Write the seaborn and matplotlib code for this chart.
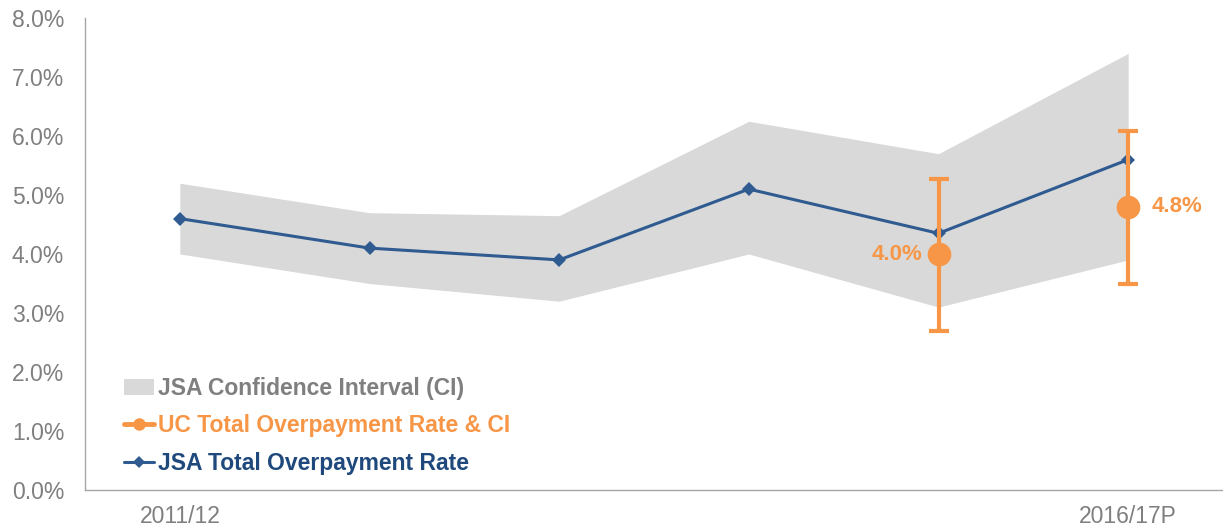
import matplotlib
matplotlib.use("Agg")
import matplotlib.pyplot as plt
from matplotlib.lines import Line2D
from matplotlib.patches import Patch
import numpy as np
import pandas as pd
import seaborn as sns

# values (percent)
years = ["2011/12", "2012/13", "2013/14", "2014/15", "2015/16", "2016/17P"]
jsa_rate = [4.6, 4.1, 3.9, 5.1, 4.35, 5.6]
jsa_ci_low = [4.0, 3.5, 3.2, 4.0, 3.1, 3.9]
jsa_ci_high = [5.2, 4.7, 4.65, 6.25, 5.7, 7.4]
uc_years = ["2015/16", "2016/17P"]
uc_rate = [4.0, 4.8]
uc_ci_low = [2.7, 3.5]
uc_ci_high = [5.27, 6.08]
shown_labels = ["2011/12", "2016/17P"]

BLUE = "#2F5B91"
ORANGE = "#F79646"
BAND = "#D9D9D9"
AXIS_GREY = "#A6A6A6"
TEXT_GREY = "#7F7F7F"

sns.set_style("white")
plt.rcParams["font.family"] = ["Liberation Sans", "DejaVu Sans"]

fig = plt.figure(figsize=(12.23, 5.26), dpi=100)
ax = fig.add_axes([85 / 1223, 36 / 526, 1 - 85 / 1223, 472 / 526])

x = np.arange(len(years))
jsa = pd.DataFrame({"x": x, "rate": jsa_rate})

ax.fill_between(x, jsa_ci_low, jsa_ci_high, color=BAND, linewidth=0, zorder=1)
sns.lineplot(data=jsa, x="x", y="rate", color=BLUE, linewidth=2.2, marker="D",
             markersize=7, markeredgewidth=0, ax=ax, zorder=3)

ux = np.array([years.index(y) for y in uc_years])
err = [np.subtract(uc_rate, uc_ci_low), np.subtract(uc_ci_high, uc_rate)]
ax.errorbar(ux, uc_rate, yerr=err, fmt="none", ecolor=ORANGE, elinewidth=3,
            capsize=7, capthick=3, zorder=4)
uc = pd.DataFrame({"x": ux, "rate": uc_rate})
sns.scatterplot(data=uc, x="x", y="rate", color=ORANGE, s=290, linewidth=0,
                ax=ax, zorder=5)

ax.text(ux[0] - 0.085, uc_rate[0], f"{uc_rate[0]:.1f}%", color=ORANGE,
        fontsize=16, fontweight="bold", ha="right", va="center", zorder=6)
ax.text(ux[1] + 0.125, uc_rate[1], f"{uc_rate[1]:.1f}%", color=ORANGE,
        fontsize=16, fontweight="bold", ha="left", va="center", zorder=6)

ax.set_xlim(-0.5, 5.435)
ax.set_ylim(0, 8)
ax.set_yticks(np.arange(0, 9, 1))
ax.set_yticklabels([f"{v:.1f}%" for v in range(9)])
ax.set_xticks(x)
ax.set_xticklabels([y if y in shown_labels else "" for y in years])
ax.set_xticks(np.arange(-0.5, len(years), 1), minor=True)
ax.tick_params(axis="x", which="major", length=0, pad=11,
               labelsize=16.5, labelcolor=TEXT_GREY)
ax.tick_params(axis="x", which="minor", length=7, color=AXIS_GREY,
               direction="out", width=1)
ax.tick_params(axis="y", length=7, color=AXIS_GREY, direction="out",
               labelsize=16.5, labelcolor=TEXT_GREY, pad=8, width=1)
ax.set_xlabel("")
ax.set_ylabel("")

for side in ["top", "right"]:
    ax.spines[side].set_visible(False)
for side in ["left", "bottom"]:
    ax.spines[side].set_color(AXIS_GREY)
    ax.spines[side].set_linewidth(1)

handles = [
    Patch(facecolor=BAND, edgecolor="none"),
    Line2D([0], [0], color=ORANGE, linewidth=3.5, marker="o", markersize=9,
           markeredgewidth=0),
    Line2D([0], [0], color=BLUE, linewidth=2.2, marker="D", markersize=6,
           markeredgewidth=0),
]
labels = ["JSA Confidence Interval (CI)", "UC Total Overpayment Rate & CI",
          "JSA Total Overpayment Rate"]
leg = ax.legend(handles, labels, loc="lower left", bbox_to_anchor=(0.016, -0.011),
                frameon=False, handlelength=1.3, handletextpad=0.2,
                labelspacing=0.63, prop={"size": 16.5, "weight": "bold"})
for text, col in zip(leg.get_texts(), [TEXT_GREY, ORANGE, "#1F497D"]):
    text.set_color(col)

fig.savefig("out.png", dpi=100)
